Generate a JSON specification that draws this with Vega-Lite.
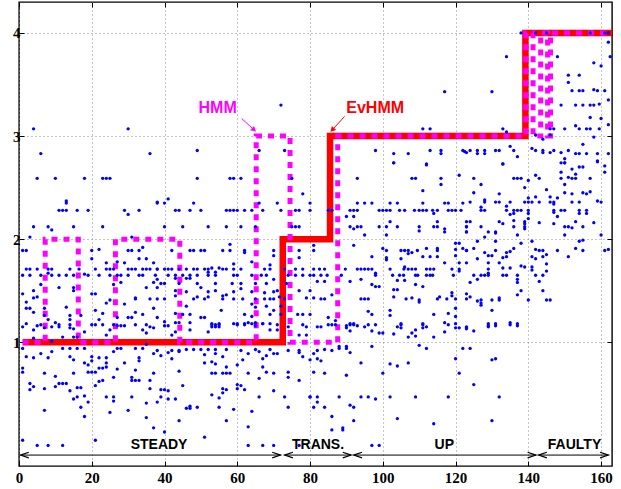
{
"$schema":"https://vega.github.io/schema/vega-lite/v6.json",
"width":593,"height":464,
"autosize":{"type":"none"},
"padding":{"left":19,"top":2,"right":9,"bottom":23},
"background":"white",
"config":{"view":{"stroke":"black","strokeWidth":1.4},
"axis":{"domain":false,"labelFont":"Liberation Serif","labelFontWeight":"bold","labelFontSize":15,"labelColor":"black","tickColor":"black","tickSize":-5,"tickWidth":1,"labelFlush":false,"labelOverlap":false,"gridColor":"#888888","gridDash":[1,3],"gridWidth":1,"title":null}},
"datasets":{
"ev":[{"t":1,"v":1},{"t":72.5,"v":2},{"t":85.5,"v":3},{"t":139.2,"v":4},{"t":163,"v":4}],
"hmm":[{"t":1,"v":1},{"t":7.2,"v":2},{"t":16.3,"v":1},{"t":26.5,"v":2},{"t":44.2,"v":1},{"t":65.2,"v":3},{"t":74.5,"v":1},{"t":87.6,"v":3},{"t":139.3,"v":4},{"t":141.3,"v":3},{"t":143.4,"v":4},{"t":145.3,"v":3},{"t":146.1,"v":4},{"t":163,"v":4}],
"ann":[{"name":"HMM","tx":54.6,"ty":3.27,"x1":61.2,"y1":3.17,"x2":64.6,"y2":3.06},{"name":"EvHMM","tx":97.9,"ty":3.27,"x1":89.5,"y1":3.19,"x2":86.1,"y2":3.06}],
"phases":[{"name":"STEADY","a":0.4,"b":71.9,"m":38.5},{"name":"TRANS.","a":73,"b":91.3,"m":82.2},{"name":"UP","a":92,"b":142.1,"m":116.9},{"name":"FAULTY","a":142.8,"b":162,"m":152.7}],
"heads":[{"t":0.4,"dir":"L"},{"t":71.9,"dir":"R"},{"t":73,"dir":"L"},{"t":91.3,"dir":"R"},{"t":92,"dir":"L"},{"t":142.1,"dir":"R"},{"t":142.8,"dir":"L"},{"t":162,"dir":"R"}],
"pts":[
{"t":4,"v":3.07},{"t":6,"v":2.83},{"t":30,"v":3.07},{"t":36,"v":2.83},
{"t":72,"v":3.3},{"t":49,"v":2.86},{"t":66,"v":2.86},{"t":73,"v":2.86},
{"t":117,"v":3.43},{"t":111,"v":3.07},{"t":113,"v":3.07},{"t":98,"v":2.86},{"t":103,"v":2.83},{"t":107,"v":2.83},{"t":103,"v":2.74},{"t":113,"v":2.86},{"t":116,"v":2.86},{"t":116,"v":2.83},{"t":122,"v":2.86},{"t":123,"v":2.84},{"t":112,"v":2.73},
{"t":138,"v":4.0},{"t":142,"v":4.0},{"t":145,"v":4.0},{"t":157,"v":4.0},{"t":161,"v":4.0},{"t":162,"v":4.0},{"t":162,"v":3.91},{"t":162.5,"v":3.77},{"t":134,"v":3.77},{"t":148,"v":3.77},{"t":158,"v":3.71},{"t":160,"v":3.68},{"t":151,"v":3.59},{"t":154,"v":3.59},{"t":151,"v":3.52},{"t":130,"v":3.43},{"t":152,"v":3.44},{"t":154,"v":3.44},{"t":155,"v":3.44},{"t":158,"v":3.45},{"t":159,"v":3.44},{"t":161,"v":3.44},{"t":162,"v":3.35},{"t":149,"v":3.3},{"t":153,"v":3.3},{"t":155,"v":3.3},{"t":157,"v":3.3},{"t":158,"v":3.3},{"t":159.5,"v":3.31},{"t":157,"v":3.18},{"t":160,"v":3.17},{"t":162,"v":3.11},{"t":153,"v":3.1},{"t":133,"v":3.07},{"t":134,"v":3.04},{"t":146,"v":3.07},{"t":147,"v":3.07},{"t":150,"v":3.07},{"t":154,"v":3.07},{"t":156,"v":3.07},{"t":157,"v":3.07},{"t":159.5,"v":3.07},{"t":142,"v":3.01},{"t":146,"v":3.01},{"t":144,"v":2.97},{"t":158,"v":2.99},
{"t":122.5,"v":2.85},{"t":124,"v":2.86},{"t":126,"v":2.86},{"t":126,"v":2.83},{"t":128,"v":2.86},{"t":128,"v":2.83},{"t":131,"v":2.86},{"t":132,"v":2.86},{"t":136,"v":2.86},{"t":135,"v":2.9},{"t":137,"v":2.8},{"t":133,"v":2.73},{"t":141,"v":2.88},{"t":142,"v":2.86},{"t":144,"v":2.86},{"t":144,"v":2.84},{"t":146,"v":2.84},{"t":147,"v":2.86},{"t":149,"v":2.84},{"t":151,"v":2.86},{"t":153,"v":2.83},{"t":154,"v":2.83},{"t":156,"v":2.83},{"t":155,"v":2.92},{"t":150,"v":2.78},{"t":150,"v":2.74},{"t":159,"v":2.83},{"t":162,"v":2.83},{"t":159,"v":2.76},
{"t":5,"v":2.59},{"t":10,"v":2.59},{"t":18,"v":2.59},{"t":23,"v":2.59},{"t":24,"v":2.59},{"t":25,"v":2.59},{"t":13,"v":2.37},{"t":13,"v":2.35},{"t":11,"v":2.28},{"t":12,"v":2.28},{"t":13,"v":2.28},{"t":16,"v":2.28},{"t":19,"v":2.28},{"t":29,"v":2.28},{"t":30,"v":2.24},{"t":33,"v":2.28},{"t":38,"v":2.36},{"t":4,"v":2.12},{"t":8,"v":2.12},{"t":9,"v":2.09},{"t":15,"v":2.12},{"t":23,"v":2.12},{"t":3,"v":2.02},{"t":31,"v":2.02},
{"t":1,"v":1.89},{"t":2,"v":1.89},{"t":20,"v":1.89},{"t":22,"v":1.9},{"t":30,"v":1.89},{"t":31,"v":1.89},{"t":33,"v":1.89},{"t":34,"v":1.92},{"t":20,"v":1.81},{"t":24,"v":1.77},{"t":27,"v":1.78},{"t":29,"v":1.77},{"t":33,"v":1.81},{"t":35,"v":1.81},{"t":37,"v":1.77},
{"t":2,"v":1.71},{"t":3,"v":1.71},{"t":5,"v":1.71},{"t":8,"v":1.71},{"t":9,"v":1.71},{"t":14,"v":1.71},{"t":16.5,"v":1.71},{"t":21,"v":1.71},{"t":24,"v":1.71},{"t":25,"v":1.71},{"t":26,"v":1.71},{"t":30,"v":1.71},{"t":31,"v":1.71},{"t":32,"v":1.71},{"t":34,"v":1.71},{"t":35,"v":1.71},{"t":36,"v":1.71},{"t":38,"v":1.71},
{"t":1,"v":1.65},{"t":3,"v":1.65},{"t":6,"v":1.65},{"t":11,"v":1.65},{"t":13,"v":1.65},{"t":15,"v":1.65},{"t":19,"v":1.65},{"t":22,"v":1.65},{"t":25,"v":1.65},{"t":27,"v":1.65},{"t":28,"v":1.65},{"t":30,"v":1.65},{"t":33,"v":1.65},{"t":34,"v":1.65},{"t":37.5,"v":1.65},{"t":9,"v":1.65},{"t":8,"v":1.67},{"t":18,"v":1.66},
{"t":6,"v":1.56},{"t":11,"v":1.53},{"t":15,"v":1.53},{"t":26,"v":1.56},{"t":28,"v":1.58},{"t":35,"v":1.53},{"t":37,"v":1.58},{"t":1,"v":1.47},{"t":4,"v":1.5},{"t":15,"v":1.5},{"t":20,"v":1.47},{"t":21,"v":1.47},{"t":2,"v":1.39},{"t":4,"v":1.43},{"t":5,"v":1.44},{"t":13,"v":1.34},{"t":24,"v":1.38},{"t":25,"v":1.41},{"t":29,"v":1.37},{"t":32,"v":1.43},{"t":32,"v":1.42},{"t":36,"v":1.42},
{"t":2,"v":1.33},{"t":3,"v":1.33},{"t":4,"v":1.29},{"t":7,"v":1.33},{"t":7,"v":1.26},{"t":8,"v":1.22},{"t":14,"v":1.26},{"t":14,"v":1.22},{"t":17,"v":1.26},{"t":21,"v":1.31},{"t":23,"v":1.28},{"t":27,"v":1.24},{"t":30,"v":1.24},{"t":31,"v":1.24},{"t":32,"v":1.29},{"t":34,"v":1.27},{"t":37,"v":1.33},{"t":38,"v":1.24},{"t":10,"v":1.19},{"t":22,"v":1.22},
{"t":49,"v":2.59},{"t":58,"v":2.59},{"t":59,"v":2.59},{"t":61,"v":2.59},{"t":75,"v":2.59},{"t":38,"v":2.35},{"t":40,"v":2.35},{"t":41,"v":2.39},{"t":48,"v":2.35},{"t":66,"v":2.35},{"t":71,"v":2.35},{"t":78,"v":2.44},{"t":80,"v":2.35},
{"t":43,"v":2.28},{"t":44,"v":2.28},{"t":47,"v":2.28},{"t":50,"v":2.28},{"t":57,"v":2.28},{"t":58,"v":2.28},{"t":59,"v":2.28},{"t":60,"v":2.28},{"t":62,"v":2.28},{"t":64,"v":2.28},{"t":67,"v":2.28},{"t":72,"v":2.28},{"t":76,"v":2.28},{"t":77,"v":2.28},{"t":80,"v":2.28},
{"t":40,"v":2.12},{"t":45,"v":2.12},{"t":52,"v":2.12},{"t":57,"v":2.12},{"t":61,"v":2.12},{"t":65,"v":2.12},{"t":75,"v":2.12},{"t":76,"v":2.12},{"t":77,"v":2.12},
{"t":42,"v":1.89},{"t":47,"v":1.89},{"t":48,"v":1.89},{"t":50,"v":1.89},{"t":51,"v":1.89},{"t":56,"v":1.89},{"t":58,"v":1.89},{"t":62,"v":1.89},{"t":70,"v":1.89},{"t":77,"v":1.89},{"t":58,"v":1.95},{"t":62,"v":1.87},{"t":64,"v":1.78},{"t":70,"v":1.84},{"t":77,"v":1.82},
{"t":38,"v":1.71},{"t":40,"v":1.71},{"t":41,"v":1.71},{"t":42,"v":1.71},{"t":44,"v":1.71},{"t":46,"v":1.71},{"t":48,"v":1.71},{"t":49,"v":1.71},{"t":51,"v":1.71},{"t":52,"v":1.71},{"t":56,"v":1.71},{"t":57,"v":1.71},{"t":59,"v":1.71},{"t":61,"v":1.71},{"t":69,"v":1.71},{"t":73,"v":1.71},{"t":76,"v":1.71},{"t":78,"v":1.71},{"t":53,"v":1.72},{"t":55,"v":1.72},{"t":59,"v":1.76},{"t":69,"v":1.75},{"t":67.5,"v":1.71},
{"t":41,"v":1.65},{"t":43,"v":1.65},{"t":45,"v":1.65},{"t":47,"v":1.65},{"t":49,"v":1.65},{"t":52,"v":1.65},{"t":54,"v":1.65},{"t":59,"v":1.65},{"t":60,"v":1.65},{"t":64,"v":1.65},{"t":66.6,"v":1.65},{"t":68,"v":1.65},{"t":74,"v":1.65},{"t":76,"v":1.65},{"t":78,"v":1.65},{"t":80,"v":1.65},
{"t":38,"v":1.61},{"t":39,"v":1.57},{"t":43,"v":1.62},{"t":47,"v":1.62},{"t":46,"v":1.62},{"t":52,"v":1.68},{"t":54,"v":1.68},{"t":70,"v":1.61},
{"t":40,"v":1.57},{"t":44,"v":1.57},{"t":49,"v":1.57},{"t":54,"v":1.57},{"t":58.6,"v":1.57},{"t":61,"v":1.57},{"t":65,"v":1.57},{"t":68,"v":1.57},{"t":73.5,"v":1.57},
{"t":38,"v":1.53},{"t":43,"v":1.5},{"t":46,"v":1.49},{"t":50,"v":1.53},{"t":52,"v":1.49},{"t":54,"v":1.5},{"t":56,"v":1.45},{"t":59,"v":1.49},{"t":61,"v":1.52},{"t":64,"v":1.49},{"t":67.5,"v":1.48},{"t":70,"v":1.49},{"t":71,"v":1.5},{"t":77,"v":1.5},{"t":80,"v":1.5},
{"t":38,"v":1.42},{"t":40,"v":1.42},{"t":48,"v":1.42},{"t":49,"v":1.44},{"t":51,"v":1.42},{"t":52,"v":1.44},{"t":56,"v":1.42},{"t":57,"v":1.46},{"t":59,"v":1.42},{"t":61.5,"v":1.42},{"t":65,"v":1.42},{"t":67.5,"v":1.42},{"t":69,"v":1.42},{"t":70,"v":1.42},{"t":73,"v":1.42},{"t":79,"v":1.43},
{"t":43,"v":1.45},{"t":46,"v":1.35},{"t":55.6,"v":1.31},{"t":64,"v":1.37},{"t":65,"v":1.34},{"t":68,"v":1.35},{"t":70,"v":1.31},
{"t":43,"v":1.28},{"t":45,"v":1.27},{"t":47,"v":1.27},{"t":50,"v":1.24},{"t":51,"v":1.24},{"t":62,"v":1.27},{"t":64,"v":1.25},{"t":69,"v":1.27},{"t":72,"v":1.27},{"t":76.6,"v":1.27},{"t":78,"v":1.27},{"t":80,"v":1.27},
{"t":43,"v":1.19},{"t":40,"v":1.2},{"t":53,"v":1.18},{"t":55,"v":1.18},{"t":60,"v":1.18},{"t":62,"v":1.18},{"t":64,"v":1.18},{"t":67,"v":1.18},{"t":72,"v":1.35},{"t":71.6,"v":1.44},
{"t":103,"v":2.74},{"t":112,"v":2.72},{"t":93,"v":2.59},{"t":108,"v":2.59},{"t":109,"v":2.59},{"t":116,"v":2.59},{"t":121,"v":2.62},{"t":116,"v":2.53},{"t":111,"v":2.47},
{"t":93,"v":2.35},{"t":95,"v":2.35},{"t":97,"v":2.35},{"t":102,"v":2.35},{"t":104,"v":2.35},{"t":111,"v":2.35},{"t":117,"v":2.35},{"t":118,"v":2.35},{"t":122,"v":2.35},
{"t":85,"v":2.28},{"t":86,"v":2.28},{"t":91,"v":2.28},{"t":92,"v":2.28},{"t":93,"v":2.28},{"t":99,"v":2.28},{"t":100,"v":2.28},{"t":101,"v":2.28},{"t":102,"v":2.28},{"t":104.6,"v":2.28},{"t":106,"v":2.28},{"t":108.7,"v":2.28},{"t":110,"v":2.28},{"t":111,"v":2.28},{"t":112,"v":2.28},{"t":113.7,"v":2.28},{"t":115,"v":2.28},{"t":118,"v":2.28},{"t":119,"v":2.28},{"t":120,"v":2.28},{"t":121.5,"v":2.28},
{"t":114,"v":2.25},{"t":90,"v":2.22},{"t":92,"v":2.22},{"t":115,"v":2.17},{"t":102,"v":2.17},{"t":123,"v":2.17},
{"t":91,"v":2.12},{"t":93,"v":2.12},{"t":94,"v":2.12},{"t":99,"v":2.12},{"t":101,"v":2.12},{"t":104,"v":2.12},{"t":110,"v":2.12},{"t":114,"v":2.12},{"t":115,"v":2.12},{"t":123,"v":2.12},
{"t":92,"v":2.1},{"t":110,"v":2.08},{"t":117,"v":2.1},{"t":117,"v":2.07},{"t":123,"v":2.07},{"t":95,"v":2.04},{"t":101,"v":2.04},
{"t":81,"v":1.94},{"t":81,"v":1.89},{"t":92,"v":1.94},{"t":100,"v":1.91},{"t":101,"v":1.89},{"t":105,"v":1.89},{"t":106,"v":1.89},{"t":107,"v":1.89},{"t":109.5,"v":1.89},{"t":112,"v":1.91},{"t":115,"v":1.91},{"t":115,"v":1.89},{"t":120,"v":1.96},{"t":120,"v":1.9},{"t":121,"v":1.96},{"t":122,"v":1.91},{"t":123,"v":1.89},
{"t":97,"v":1.83},{"t":101,"v":1.82},{"t":101,"v":1.8},{"t":105,"v":1.81},{"t":107,"v":1.86},{"t":108,"v":1.87},{"t":111,"v":1.83},{"t":113,"v":1.83},{"t":115,"v":1.83},{"t":120,"v":1.84},{"t":117,"v":1.77},{"t":121,"v":1.77},
{"t":81,"v":1.71},{"t":82.6,"v":1.71},{"t":84,"v":1.71},{"t":89.7,"v":1.71},{"t":93,"v":1.71},{"t":94,"v":1.71},{"t":95,"v":1.71},{"t":96,"v":1.71},{"t":97,"v":1.71},{"t":102,"v":1.71},{"t":105.8,"v":1.71},{"t":107,"v":1.71},{"t":108,"v":1.71},{"t":109,"v":1.71},{"t":112,"v":1.71},{"t":113,"v":1.71},{"t":114,"v":1.71},{"t":119,"v":1.71},{"t":121,"v":1.71},{"t":106,"v":1.73},{"t":121,"v":1.69},{"t":98,"v":1.67},
{"t":81,"v":1.65},{"t":83,"v":1.65},{"t":84.7,"v":1.65},{"t":88.6,"v":1.65},{"t":98,"v":1.65},{"t":102.7,"v":1.65},{"t":104.6,"v":1.65},{"t":105.7,"v":1.65},{"t":109,"v":1.65},{"t":109.6,"v":1.65},{"t":112,"v":1.65},{"t":113,"v":1.65},{"t":113.7,"v":1.65},{"t":119.4,"v":1.65},
{"t":82,"v":1.59},{"t":84,"v":1.59},{"t":94,"v":1.61},{"t":91,"v":1.59},{"t":104,"v":1.6},{"t":106,"v":1.6},{"t":109,"v":1.56},{"t":97,"v":1.56},{"t":98,"v":1.54},{"t":99,"v":1.54},{"t":103,"v":1.51},{"t":104,"v":1.51},{"t":111,"v":1.54},
{"t":81,"v":1.43},{"t":83,"v":1.42},{"t":84,"v":1.42},{"t":86,"v":1.46},{"t":96,"v":1.42},{"t":103,"v":1.44},{"t":106.4,"v":1.42},{"t":108,"v":1.43},{"t":110,"v":1.41},{"t":115,"v":1.42},{"t":115.6,"v":1.44},{"t":117.6,"v":1.42},{"t":119,"v":1.48},{"t":119,"v":1.45},{"t":120,"v":1.42},{"t":123,"v":1.42},{"t":123,"v":1.47},{"t":94,"v":1.42},{"t":95,"v":1.42},
{"t":102,"v":1.31},{"t":102,"v":1.26},{"t":96,"v":1.3},{"t":97,"v":1.27},{"t":110,"v":1.39},{"t":120,"v":1.33},{"t":114,"v":1.27},{"t":118,"v":1.28},{"t":120,"v":1.25},{"t":85,"v":1.24},{"t":87,"v":1.21},{"t":91,"v":1.18},{"t":92,"v":1.18},{"t":105,"v":1.18},{"t":111,"v":1.18},{"t":117,"v":1.19},
{"t":133,"v":2.73},{"t":149,"v":2.74},{"t":150,"v":2.74},{"t":161,"v":2.71},{"t":152,"v":2.68},{"t":154,"v":2.7},{"t":155,"v":2.7},{"t":159,"v":2.75},{"t":161,"v":2.65},{"t":149,"v":2.65},{"t":153,"v":2.63},
{"t":125,"v":2.59},{"t":136,"v":2.59},{"t":137,"v":2.59},{"t":138,"v":2.59},{"t":142,"v":2.62},{"t":143,"v":2.59},{"t":149,"v":2.59},{"t":151,"v":2.6},{"t":152,"v":2.59},{"t":153,"v":2.59},{"t":157,"v":2.59},{"t":140,"v":2.57},
{"t":127,"v":2.53},{"t":150,"v":2.53},{"t":139,"v":2.5},{"t":145,"v":2.48},{"t":125,"v":2.45},{"t":132,"v":2.44},{"t":150,"v":2.45},{"t":152,"v":2.44},{"t":155,"v":2.45},{"t":156,"v":2.44},{"t":157,"v":2.46},
{"t":140,"v":2.4},{"t":142,"v":2.41},{"t":146,"v":2.41},{"t":148,"v":2.4},{"t":159,"v":2.37},
{"t":124,"v":2.36},{"t":128,"v":2.36},{"t":131,"v":2.36},{"t":132,"v":2.36},{"t":135,"v":2.36},{"t":139,"v":2.36},{"t":140,"v":2.36},{"t":141,"v":2.36},{"t":143,"v":2.36},{"t":146,"v":2.36},{"t":147,"v":2.36},{"t":152,"v":2.36},{"t":154,"v":2.36},{"t":160,"v":2.36},{"t":128,"v":2.38},{"t":134,"v":2.32},{"t":147,"v":2.34},
{"t":127,"v":2.28},{"t":128,"v":2.28},{"t":134,"v":2.28},{"t":136,"v":2.28},{"t":137,"v":2.28},{"t":138,"v":2.28},{"t":140,"v":2.28},{"t":147,"v":2.28},{"t":149,"v":2.28},{"t":150,"v":2.28},{"t":154,"v":2.28},{"t":156,"v":2.28},
{"t":127,"v":2.31},{"t":147,"v":2.26},{"t":135,"v":2.24},{"t":136,"v":2.25},{"t":140,"v":2.25},{"t":140,"v":2.2},{"t":148,"v":2.22},{"t":154,"v":2.25},{"t":156,"v":2.25},{"t":153,"v":2.17},{"t":124,"v":2.17},{"t":132,"v":2.17},{"t":133,"v":2.15},{"t":136,"v":2.18},{"t":139,"v":2.17},{"t":139,"v":2.15},{"t":143,"v":2.16},{"t":158,"v":2.16},{"t":147,"v":2.15},
{"t":123,"v":2.12},{"t":127,"v":2.12},{"t":136,"v":2.12},{"t":139,"v":2.12},{"t":139,"v":2.1},{"t":150,"v":2.12},{"t":151,"v":2.12},{"t":152,"v":2.11},{"t":155,"v":2.12},
{"t":123,"v":2.07},{"t":129,"v":2.07},{"t":131,"v":2.07},{"t":131,"v":2.06},{"t":137,"v":2.04},{"t":150,"v":2.04},{"t":160,"v":2.04},{"t":128,"v":2.02},
{"t":126,"v":1.98},{"t":131,"v":1.98},{"t":141,"v":1.98},{"t":154,"v":1.98},{"t":155,"v":1.99},
{"t":123,"v":1.89},{"t":125,"v":1.91},{"t":128,"v":1.87},{"t":129,"v":1.84},{"t":130,"v":1.84},{"t":131,"v":1.89},{"t":134,"v":1.87},{"t":133,"v":1.82},{"t":135,"v":1.88},{"t":136,"v":1.91},{"t":138,"v":1.96},{"t":142,"v":1.9},{"t":143,"v":1.89},{"t":144,"v":1.89},{"t":145,"v":1.85},{"t":148,"v":1.89},{"t":153,"v":1.91},{"t":155,"v":1.89},{"t":161,"v":1.89},{"t":162,"v":1.9},
{"t":123,"v":1.77},{"t":126,"v":1.81},{"t":132,"v":1.77},{"t":134,"v":1.83},{"t":141,"v":1.83},{"t":142,"v":1.81},{"t":144,"v":1.83},{"t":151,"v":1.83},{"t":139,"v":1.73},{"t":141,"v":1.73},{"t":141,"v":1.7},{"t":138,"v":1.74},{"t":145,"v":1.76},{"t":145,"v":1.69},{"t":129,"v":1.77},{"t":129,"v":1.71},{"t":129,"v":1.67},{"t":129,"v":1.65},{"t":133,"v":1.72},{"t":135,"v":1.72},{"t":137,"v":1.65},{"t":137,"v":1.61},{"t":137,"v":1.58},{"t":128,"v":1.65},{"t":127,"v":1.65},{"t":125,"v":1.65},{"t":133,"v":1.65},{"t":134,"v":1.65},{"t":142,"v":1.65},{"t":144,"v":1.65},{"t":126,"v":1.61},{"t":124,"v":1.58},{"t":138,"v":1.5},{"t":143,"v":1.59},{"t":144,"v":1.5},{"t":137,"v":1.46},{"t":124,"v":1.44},{"t":126,"v":1.4},{"t":127,"v":1.41},{"t":127,"v":1.38},{"t":127,"v":1.36},{"t":130,"v":1.41},{"t":132,"v":1.43},{"t":132,"v":1.41},{"t":140,"v":1.41},{"t":145,"v":1.41},{"t":146,"v":1.41},{"t":130,"v":1.31},{"t":129,"v":1.18},{"t":131,"v":1.18},{"t":135,"v":1.19},{"t":137,"v":1.18},
{"t":1,"v":1.15},{"t":2,"v":1.18},{"t":4,"v":1.12},{"t":5,"v":1.16},{"t":6,"v":1.17},{"t":7,"v":1.14},{"t":9,"v":1.15},{"t":11,"v":1.17},{"t":11,"v":1.15},{"t":14,"v":1.17},{"t":14,"v":1.14},{"t":15,"v":1.13},{"t":18,"v":1.1},{"t":20,"v":1.17},{"t":21,"v":1.17},{"t":23,"v":1.17},{"t":24,"v":1.07},{"t":25,"v":1.12},{"t":26,"v":1.17},{"t":27,"v":1.16},{"t":28,"v":1.16},{"t":29,"v":1.16},{"t":32,"v":1.17},{"t":34,"v":1.12},{"t":35,"v":1.17},{"t":35,"v":1.09},{"t":36,"v":1.15},{"t":37,"v":1.14},{"t":4,"v":1.04},{"t":12,"v":1.05},{"t":15,"v":1.05},{"t":16,"v":1.05},{"t":9,"v":1.01},
{"t":1,"v":0.94},{"t":2,"v":0.86},{"t":4,"v":0.85},{"t":6,"v":0.89},{"t":8,"v":0.85},{"t":9,"v":0.91},{"t":12,"v":0.94},{"t":14,"v":0.94},{"t":16,"v":0.94},{"t":18,"v":0.94},{"t":14,"v":0.86},{"t":15,"v":0.83},{"t":18,"v":0.8},{"t":19,"v":0.78},{"t":20,"v":0.86},{"t":20,"v":0.82},{"t":22,"v":0.85},{"t":24,"v":0.85},{"t":24,"v":0.8},{"t":26,"v":0.91},{"t":27,"v":0.94},{"t":28,"v":0.94},{"t":29,"v":0.8},{"t":32,"v":0.94},{"t":33,"v":0.85},{"t":33,"v":0.82},{"t":34,"v":0.94},{"t":35,"v":0.98},{"t":32,"v":0.73},{"t":37,"v":0.89},
{"t":1,"v":0.75},{"t":1,"v":0.71},{"t":7,"v":0.7},{"t":10,"v":0.67},{"t":15,"v":0.7},{"t":19,"v":0.71},{"t":20,"v":0.71},{"t":21,"v":0.71},{"t":22,"v":0.75},{"t":23,"v":0.75},{"t":24,"v":0.76},{"t":26,"v":0.66},{"t":27,"v":0.74},{"t":31,"v":0.66},{"t":32,"v":0.63},{"t":31,"v":0.63},{"t":33,"v":0.63},{"t":36,"v":0.63},{"t":37,"v":0.7},
{"t":3,"v":0.6},{"t":4,"v":0.57},{"t":3,"v":0.54},{"t":7,"v":0.55},{"t":10,"v":0.57},{"t":11,"v":0.6},{"t":12,"v":0.6},{"t":13,"v":0.6},{"t":14,"v":0.53},{"t":15,"v":0.45},{"t":16,"v":0.56},{"t":17,"v":0.56},{"t":16,"v":0.47},{"t":18,"v":0.48},{"t":19,"v":0.42},{"t":17,"v":0.37},{"t":21,"v":0.58},{"t":22,"v":0.62},{"t":23,"v":0.63},{"t":24,"v":0.47},{"t":26,"v":0.47},{"t":26,"v":0.43},{"t":25,"v":0.32},{"t":30,"v":0.34},{"t":31,"v":0.47},{"t":35,"v":0.41},{"t":35,"v":0.27},{"t":36,"v":0.55},{"t":37,"v":0.17},{"t":38,"v":0.42},{"t":7,"v":0.34},{"t":18,"v":0.28},{"t":1,"v":0.05},{"t":5,"v":0.0},{"t":8,"v":0.0},{"t":12,"v":0.0},{"t":21,"v":0.05},
{"t":40,"v":1.16},{"t":41,"v":1.16},{"t":42,"v":1.07},{"t":43,"v":1.1},{"t":44,"v":1.19},{"t":47,"v":1.19},{"t":47,"v":1.12},{"t":53,"v":1.17},{"t":54,"v":1.17},{"t":55,"v":1.17},{"t":53,"v":1.15},{"t":54,"v":1.15},{"t":55,"v":1.15},{"t":52,"v":1.1},{"t":59,"v":1.18},{"t":60,"v":1.17},{"t":62,"v":1.17},{"t":63,"v":1.19},{"t":65,"v":1.19},{"t":65,"v":1.16},{"t":67,"v":1.18},{"t":69,"v":1.18},{"t":69,"v":1.12},{"t":71,"v":1.17},{"t":71,"v":1.12},{"t":74,"v":1.15},{"t":77,"v":1.07},{"t":78,"v":1.17},{"t":79,"v":1.15},{"t":79,"v":1.07},
{"t":38,"v":0.92},{"t":39,"v":0.87},{"t":41,"v":0.9},{"t":42,"v":0.84},{"t":42,"v":0.92},{"t":44,"v":0.92},{"t":44,"v":0.91},{"t":46,"v":0.93},{"t":48,"v":0.93},{"t":50,"v":0.93},{"t":51,"v":0.88},{"t":52,"v":0.93},{"t":54,"v":0.93},{"t":54,"v":0.89},{"t":56,"v":0.86},{"t":57,"v":0.93},{"t":61,"v":0.92},{"t":63,"v":0.89},{"t":65,"v":0.93},{"t":66,"v":0.91},{"t":67,"v":0.84},{"t":69,"v":0.93},{"t":68,"v":0.87},{"t":70,"v":0.89},{"t":71,"v":0.89},{"t":74,"v":0.92},{"t":77,"v":0.92},{"t":77,"v":0.9},{"t":78,"v":0.86},{"t":80,"v":0.83},
{"t":44,"v":0.72},{"t":51,"v":0.8},{"t":53,"v":0.81},{"t":54,"v":0.79},{"t":53,"v":0.7},{"t":54,"v":0.7},{"t":57,"v":0.7},{"t":58,"v":0.7},{"t":56,"v":0.7},{"t":57,"v":0.76},{"t":60,"v":0.78},{"t":61.5,"v":0.83},{"t":63,"v":0.7},{"t":67,"v":0.76},{"t":66,"v":0.65},{"t":68,"v":0.71},{"t":70,"v":0.7},{"t":74,"v":0.71},{"t":74,"v":0.66},{"t":77,"v":0.63},
{"t":39,"v":0.54},{"t":40,"v":0.54},{"t":41,"v":0.53},{"t":39,"v":0.47},{"t":41,"v":0.45},{"t":43,"v":0.45},{"t":45,"v":0.58},{"t":46,"v":0.36},{"t":47,"v":0.38},{"t":47,"v":0.36},{"t":49,"v":0.37},{"t":53,"v":0.49},{"t":55,"v":0.46},{"t":55,"v":0.37},{"t":56,"v":0.55},{"t":56,"v":0.51},{"t":57,"v":0.54},{"t":59,"v":0.35},{"t":57,"v":0.24},{"t":60,"v":0.59},{"t":60,"v":0.55},{"t":61,"v":0.58},{"t":62,"v":0.54},{"t":64,"v":0.33},{"t":63,"v":0.18},{"t":66,"v":0.47},{"t":70,"v":0.53},{"t":73,"v":0.47},{"t":74,"v":0.37},{"t":80,"v":0.47},{"t":44,"v":0.24},{"t":51,"v":0.08},{"t":40,"v":0.13},{"t":63,"v":0.0},{"t":67,"v":0.0},{"t":70,"v":0.0},{"t":77,"v":0.0},
{"t":82,"v":1.15},{"t":83,"v":1.15},{"t":85,"v":1.17},{"t":86,"v":1.17},{"t":87,"v":1.17},{"t":90,"v":1.16},{"t":90,"v":1.14},{"t":91,"v":1.17},{"t":91,"v":1.11},{"t":92,"v":1.17},{"t":93,"v":1.16},{"t":95,"v":1.15},{"t":96,"v":1.17},{"t":97,"v":1.11},{"t":98,"v":1.17},{"t":99,"v":1.09},{"t":100,"v":1.09},{"t":103,"v":1.08},{"t":104,"v":1.15},{"t":105,"v":1.17},{"t":105,"v":1.14},{"t":107,"v":1.05},{"t":108,"v":1.09},{"t":109,"v":1.12},{"t":109,"v":1.06},{"t":111,"v":1.17},{"t":111,"v":1.14},{"t":112,"v":1.15},{"t":114,"v":1.05},{"t":117,"v":1.1},{"t":118,"v":1.17},{"t":120,"v":1.18},{"t":120,"v":1.14},{"t":121,"v":1.14},{"t":123,"v":1.13},{"t":123,"v":1.15},
{"t":81,"v":0.89},{"t":82,"v":0.84},{"t":83,"v":0.82},{"t":82,"v":0.92},{"t":84,"v":0.93},{"t":86,"v":0.92},{"t":88,"v":0.96},{"t":88,"v":0.94},{"t":90,"v":0.96},{"t":90,"v":0.94},{"t":91,"v":0.9},{"t":94,"v":0.8},{"t":97,"v":0.96},{"t":81,"v":0.71},{"t":84,"v":0.7},{"t":90,"v":0.68},{"t":100,"v":0.7},{"t":102,"v":0.79},{"t":104,"v":0.77},{"t":107,"v":0.8},{"t":110,"v":0.97},{"t":112,"v":0.94},{"t":120,"v":0.84},{"t":121,"v":0.7},{"t":122,"v":0.94},
{"t":80,"v":0.47},{"t":82,"v":0.47},{"t":82,"v":0.42},{"t":81,"v":0.37},{"t":84,"v":0.37},{"t":86,"v":0.28},{"t":86,"v":0.15},{"t":88,"v":0.47},{"t":89,"v":0.17},{"t":89,"v":0.15},{"t":91,"v":0.39},{"t":92,"v":0.37},{"t":92,"v":0.24},{"t":94,"v":0.47},{"t":96,"v":0.47},{"t":98,"v":0.45},{"t":102,"v":0.47},{"t":104,"v":0.26},{"t":109,"v":0.47},{"t":114,"v":0.21},{"t":118,"v":0.47},{"t":97,"v":0.0},{"t":99,"v":0.0},
{"t":123,"v":1.14},{"t":125,"v":1.11},{"t":129,"v":1.16},{"t":129,"v":1.15},{"t":131,"v":1.16},{"t":135,"v":1.17},{"t":137,"v":1.16},{"t":124,"v":0.94},{"t":130,"v":0.83},{"t":131,"v":0.84},{"t":125,"v":0.59},{"t":132,"v":0.47},{"t":130,"v":0.24}
]},
"layer":[
{"data":{"name":"ev"},"mark":{"type":"line","interpolate":"step-after","color":"#FF0000","strokeWidth":6.5,"strokeJoin":"miter","strokeCap":"butt","clip":true},
"encoding":{"x":{"field":"t","type":"quantitative","scale":{"domain":[0,163],"nice":false,"zero":false},"axis":{"orient":"top","labels":false,"grid":false,"values":[0,20,40,60,80,100,120,140,160]}},
"y":{"field":"v","type":"quantitative","scale":{"domain":[-0.2,4.3],"nice":false,"zero":false},"axis":{"orient":"right","labels":false,"grid":false,"values":[1,2,3,4]}}}},
{"data":{"name":"hmm"},"mark":{"type":"line","interpolate":"step-after","color":"#FF00FF","strokeWidth":5,"strokeDash":[6,6],"strokeJoin":"miter","strokeCap":"butt","clip":true},
"encoding":{"x":{"field":"t","type":"quantitative","scale":{"domain":[0,163],"nice":false,"zero":false},"axis":null},
"y":{"field":"v","type":"quantitative","scale":{"domain":[-0.2,4.3],"nice":false,"zero":false},"axis":null}}},
{"data":{"name":"ann"},"mark":{"type":"rule","strokeWidth":1},
"encoding":{"x":{"field":"x1","type":"quantitative","scale":{"domain":[0,163],"nice":false,"zero":false},"axis":null},"x2":{"field":"x2"},
"y":{"field":"y1","type":"quantitative","scale":{"domain":[-0.2,4.3],"nice":false,"zero":false},"axis":null},"y2":{"field":"y2"},
"color":{"field":"name","type":"nominal","scale":{"domain":["HMM","EvHMM"],"range":["#FF00FF","#FF0000"]},"legend":null}}},
{"data":{"name":"ann"},"transform":[{"filter":"datum.name === 'HMM'"}],"mark":{"type":"point","shape":"triangle-up","filled":true,"size":36,"angle":132,"color":"#FF00FF","opacity":1},
"encoding":{"x":{"field":"x2","type":"quantitative","scale":{"domain":[0,163],"nice":false,"zero":false},"axis":null},
"y":{"field":"y2","type":"quantitative","scale":{"domain":[-0.2,4.3],"nice":false,"zero":false},"axis":null}}},
{"data":{"name":"ann"},"transform":[{"filter":"datum.name === 'EvHMM'"}],"mark":{"type":"point","shape":"triangle-up","filled":true,"size":36,"angle":224,"color":"#FF0000","opacity":1},
"encoding":{"x":{"field":"x2","type":"quantitative","scale":{"domain":[0,163],"nice":false,"zero":false},"axis":null},
"y":{"field":"y2","type":"quantitative","scale":{"domain":[-0.2,4.3],"nice":false,"zero":false},"axis":null}}},
{"data":{"name":"ann"},"mark":{"type":"text","font":"Liberation Sans","fontWeight":"bold","fontSize":16,"align":"center","baseline":"middle"},
"encoding":{"x":{"field":"tx","type":"quantitative","scale":{"domain":[0,163],"nice":false,"zero":false},"axis":null},
"y":{"field":"ty","type":"quantitative","scale":{"domain":[-0.2,4.3],"nice":false,"zero":false},"axis":null},
"text":{"field":"name"},
"color":{"field":"name","type":"nominal","scale":{"domain":["HMM","EvHMM"],"range":["#FF00FF","#FF0000"]},"legend":null}}},
{"data":{"name":"phases"},"mark":{"type":"rule","color":"black","strokeWidth":1},
"encoding":{"x":{"field":"a","type":"quantitative","scale":{"domain":[0,163],"nice":false,"zero":false},"axis":null},"x2":{"field":"b"},
"y":{"datum":-0.094,"type":"quantitative","scale":{"domain":[-0.2,4.3],"nice":false,"zero":false},"axis":null}}},
{"data":{"name":"phases"},"mark":{"type":"text","font":"Liberation Sans","fontWeight":"bold","fontSize":14,"align":"center","baseline":"middle","color":"black"},
"encoding":{"x":{"field":"m","type":"quantitative","scale":{"domain":[0,163],"nice":false,"zero":false},"axis":null},
"y":{"datum":0.006,"type":"quantitative","scale":{"domain":[-0.2,4.3],"nice":false,"zero":false},"axis":null},
"text":{"field":"name"}}},
{"data":{"name":"heads"},"mark":{"type":"point","filled":false,"color":"black","strokeWidth":1.2,"size":31,"opacity":1},
"encoding":{"x":{"field":"t","type":"quantitative","scale":{"domain":[0,163],"nice":false,"zero":false},"axis":null},
"y":{"datum":-0.094,"type":"quantitative","scale":{"domain":[-0.2,4.3],"nice":false,"zero":false},"axis":null},
"shape":{"field":"dir","type":"nominal","scale":{"domain":["L","R"],"range":["M3,-1L0,0L3,1","M-3,-1L0,0L-3,1"]},"legend":null}}},
{"data":{"name":"pts"},"mark":{"type":"circle","size":11,"color":"#0000FF","opacity":1},
"encoding":{"x":{"field":"t","type":"quantitative","scale":{"domain":[0,163],"nice":false,"zero":false},"axis":{"orient":"bottom","values":[0,20,40,60,80,100,120,140,160],"grid":true,"labelPadding":9}},
"y":{"field":"v","type":"quantitative","scale":{"domain":[-0.2,4.3],"nice":false,"zero":false},"axis":{"orient":"left","values":[1,2,3,4],"grid":true,"labelPadding":4}}}}
],
"resolve":{"axis":{"x":"independent","y":"independent"}}
}
